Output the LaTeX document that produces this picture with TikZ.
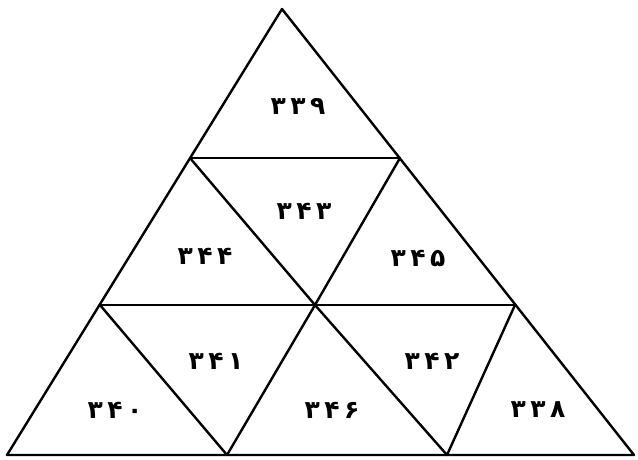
\documentclass[tikz,border=0pt]{standalone}
\usepackage{fontspec}
\newfontfamily\fafont[LetterSpace=18]{DejaVu Sans}
\begin{document}
\begin{tikzpicture}[x=1pt,y=-1pt,
  edge/.style={line width=2.4pt,line join=round,line cap=round},
  num/.style={font=\fafont\bfseries\fontsize{25}{25}\selectfont,inner sep=0pt}]
\useasboundingbox (0,0) rectangle (638,460);
\coordinate (A) at (282,9);
\coordinate (L1) at (190,158);
\coordinate (R1) at (400,158);
\coordinate (L2) at (100,305);
\coordinate (M2) at (315,305);
\coordinate (R2) at (515,305);
\coordinate (BL) at (7,455);
\coordinate (B1) at (227,455);
\coordinate (B2) at (447,455);
\coordinate (BR) at (634,455);
\draw[edge] (A) -- (BL) -- (BR) -- cycle;
\draw[edge] (L1) -- (R1);
\draw[edge] (L2) -- (R2);
\draw[edge] (L1) -- (M2) -- (R1);
\draw[edge] (L2) -- (B1) -- (M2) -- (B2) -- (R2);
\node[num] (t339) at (298,106) {۳۳۹};
\node[num] (t343) at (304,211) {۳۴۳};
\node[num] (t344) at (205,256) {۳۴۴};
\node[num] (t345) at (418,258) {۳۴۵};
\node[num] (t341) at (216,361) {۳۴۱};
\node[num] (t342) at (432,361) {۳۴۲};
\node[num] (t340) at (115,410) {۳۴۰};
\node[num] (t346) at (332,410) {۳۴۶};
\node[num] (t338) at (538,410) {۳۳۸};
\end{tikzpicture}
\end{document}
